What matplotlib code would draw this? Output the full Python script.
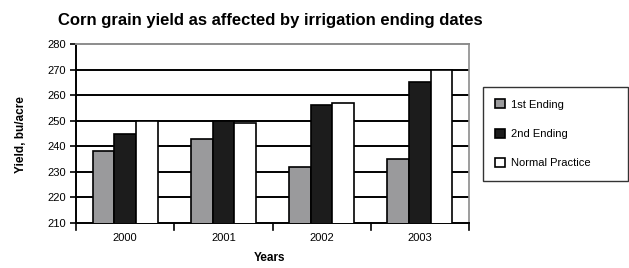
import matplotlib
matplotlib.use("Agg")
import matplotlib.pyplot as plt
import numpy as np

plt.rcParams['font.family'] = ['Liberation Sans', 'DejaVu Sans']

years = ["2000", "2001", "2002", "2003"]
series_names = ["1st Ending", "2nd Ending", "Normal Practice"]
first_ending = [238, 243, 232, 235]
second_ending = [245, 250, 256, 265]
normal_practice = [250, 249, 257, 270]
colors = ["#9a9a9c", "#1c1c1c", "#ffffff"]

W, H = 629, 268
fig = plt.figure(figsize=(W / 100, H / 100), dpi=100)
ax = fig.add_axes([76 / W, 1 - 223 / H, (469 - 76) / W, (223 - 44) / H])

x = np.arange(len(years))
w = 0.22
for i, (vals, c, name) in enumerate(zip([first_ending, second_ending, normal_practice], colors, series_names)):
    ax.bar(x + (i - 1) * w, vals, width=w, bottom=0, color=c, edgecolor="black",
           linewidth=1.2, label=name, zorder=3)

ax.set_ylim(210, 280)
ax.set_xlim(-0.5, 3.5)
ax.set_yticks(range(210, 281, 10))
ax.set_yticklabels([str(v) for v in range(210, 281, 10)], fontsize=8)
for v in range(220, 280, 10):
    ax.axhline(v, color="black", linewidth=1.4, zorder=1)

ax.set_xticks(x)
ax.set_xticklabels(years, fontsize=8)
ax.tick_params(axis="x", length=0, pad=7)
ax.tick_params(axis="y", length=4.5, width=1.2, direction="out", pad=3)
for b in [-0.5, 0.5, 1.5, 2.5, 3.5]:
    ax.plot([b, b], [0, -0.04], transform=ax.get_xaxis_transform(), color="black",
            linewidth=1.2, clip_on=False)

ax.spines["left"].set_color("black")
ax.spines["left"].set_linewidth(1.4)
ax.spines["bottom"].set_color("black")
ax.spines["bottom"].set_linewidth(1.4)
ax.spines["top"].set_color("#8c8c8c")
ax.spines["top"].set_linewidth(1.4)
ax.spines["right"].set_color("#8c8c8c")
ax.spines["right"].set_linewidth(1.2)

fig.text(20.7 / W, 1 - 135 / H, "Yield, bu/acre", rotation=90, ha="center", va="center",
         fontsize=8.5, fontweight="bold")
fig.text(270 / W, 1 - 257.7 / H, "Years", ha="center", va="center",
         fontsize=8.5, fontweight="bold")

fig.text(270.5 / W, 1 - 25 / H, "Corn grain yield as affected by irrigation ending dates",
         ha="center", va="baseline", fontsize=12, fontweight="bold")

leg = fig.legend(loc="upper left", bbox_to_anchor=(483 / W, 1 - 179 / H, 145 / W, 92 / H),
                 mode="expand", fontsize=8,
                 frameon=True, fancybox=False, edgecolor="black", handlelength=0.9,
                 handleheight=0.9, handletextpad=0.55, labelspacing=1.7,
                 borderpad=1.1, borderaxespad=0)
leg.get_frame().set_linewidth(1.0)

fig.savefig("out.png", dpi=100)
